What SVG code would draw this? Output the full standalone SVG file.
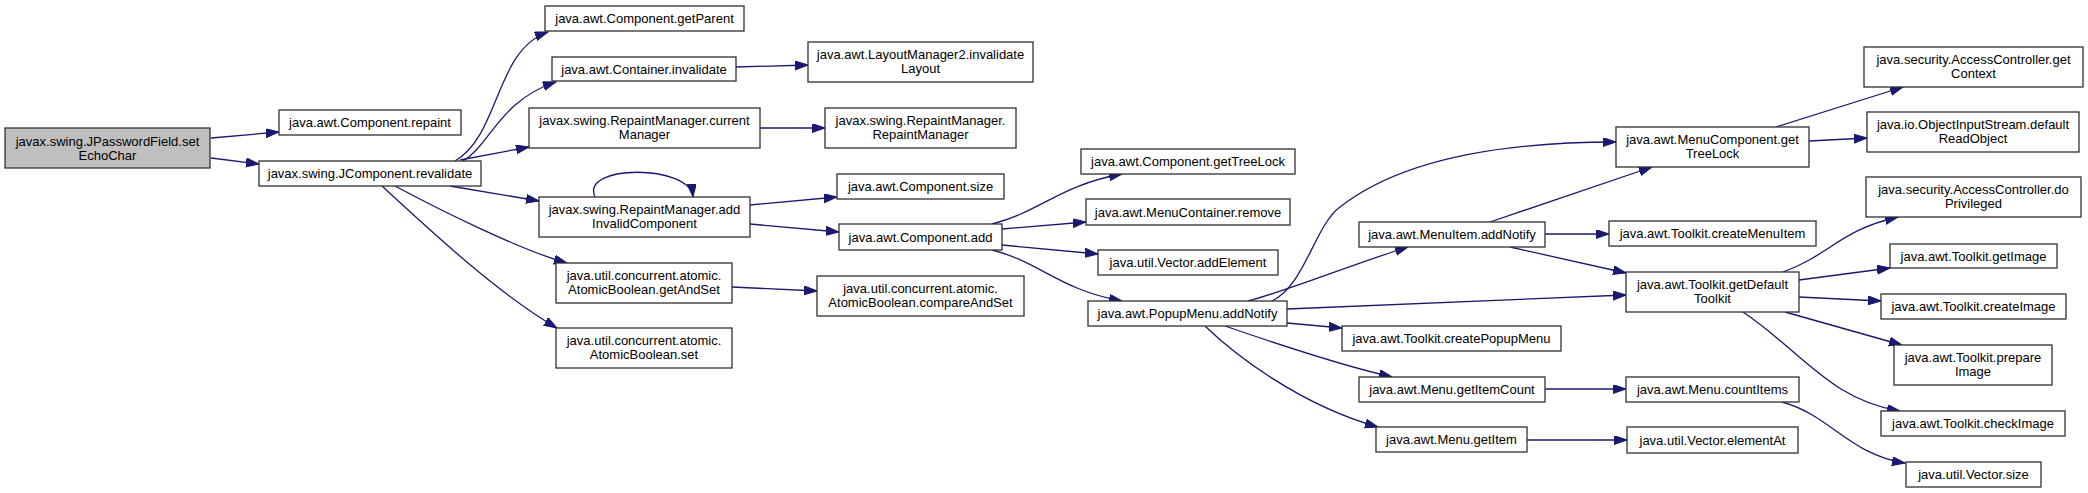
<svg xmlns="http://www.w3.org/2000/svg" width="2088" height="493" viewBox="0 0 2088 493">
<style>
.n rect{fill:#ffffff;stroke:#303030;stroke-width:1.3}
.n.root rect{fill:#bfbfbf}
.n text{font-family:"Liberation Sans",Arial,sans-serif;font-size:13px;fill:#000;text-anchor:middle}
#edges path{fill:none;stroke:#191970;stroke-width:1.3;marker-end:url(#ah)}
</style>
<defs>
<marker id="ah" markerUnits="userSpaceOnUse" markerWidth="14" markerHeight="10" refX="13" refY="4.5" orient="auto" viewBox="0 0 14 10">
<path d="M0,0 L13,4.5 L0,9 z" fill="#191970" stroke="#191970" stroke-width="1"/>
</marker>
</defs>
<rect width="2088" height="493" fill="#ffffff"/>
<g id="edges">
<path d="M211,138 L279,132"/>
<path d="M211,158 L259,164"/>
<path d="M455,161 C500,135 495,50 548,32"/>
<path d="M463,161 C490,145 500,100 556,82"/>
<path d="M460,160 L529,147"/>
<path d="M450,186 L539,201"/>
<path d="M395,186 C440,210 520,250 567,263"/>
<path d="M382,186 C435,235 500,295 557,328"/>
<path d="M736,67 L808,65"/>
<path d="M760,128 L825,128"/>
<path d="M595,197 C580,164 690,164 693,197"/>
<path d="M750,205 L837,197"/>
<path d="M750,224 L839,232"/>
<path d="M992,224 C1040,212 1060,185 1122,174"/>
<path d="M1002,229 L1086,222"/>
<path d="M1002,245 L1098,254"/>
<path d="M992,250 C1040,262 1060,290 1122,301"/>
<path d="M732,287 L817,291"/>
<path d="M1272,301 C1305,285 1315,225 1340,207 C1400,160 1500,142 1616,142"/>
<path d="M1248,301 C1290,290 1350,265 1408,247"/>
<path d="M1490,222 L1652,167"/>
<path d="M1545,234 L1609,234"/>
<path d="M1510,247 L1626,273"/>
<path d="M1287,309 L1626,295"/>
<path d="M1287,323 L1342,328"/>
<path d="M1225,326 C1280,345 1340,365 1392,377"/>
<path d="M1205,326 C1235,355 1300,405 1378,427"/>
<path d="M1545,389 L1626,389"/>
<path d="M1527,440 L1627,440"/>
<path d="M1776,127 L1903,87"/>
<path d="M1809,141 L1867,138"/>
<path d="M1783,272 C1830,255 1840,230 1898,217"/>
<path d="M1799,280 L1890,268"/>
<path d="M1799,297 L1881,301"/>
<path d="M1785,312 L1902,345"/>
<path d="M1743,312 C1800,350 1830,400 1900,411"/>
<path d="M1782,402 C1830,415 1850,455 1905,463"/>
</g>
<g id="n0" class="n root"><rect x="5" y="128" width="205" height="40"/><text x="107.5" y="145.5">javax.swing.JPasswordField.set</text><text x="107.5" y="159.5">EchoChar</text></g>
<g id="n1" class="n"><rect x="279" y="110" width="182" height="25"/><text x="370" y="127">java.awt.Component.repaint</text></g>
<g id="n2" class="n"><rect x="259" y="161" width="222" height="25"/><text x="370" y="178">javax.swing.JComponent.revalidate</text></g>
<g id="n3" class="n"><rect x="545" y="6" width="199" height="25"/><text x="644.5" y="23">java.awt.Component.getParent</text></g>
<g id="n4" class="n"><rect x="552" y="57" width="184" height="24"/><text x="644" y="73.5">java.awt.Container.invalidate</text></g>
<g id="n5" class="n"><rect x="808" y="42" width="225" height="40"/><text x="920.5" y="59">java.awt.LayoutManager2.invalidate</text><text x="920.5" y="73">Layout</text></g>
<g id="n6" class="n"><rect x="529" y="108" width="231" height="40"/><text x="644.5" y="125">javax.swing.RepaintManager.current</text><text x="644.5" y="139">Manager</text></g>
<g id="n7" class="n"><rect x="825" y="108" width="191" height="40"/><text x="920.5" y="125">javax.swing.RepaintManager.</text><text x="920.5" y="139">RepaintManager</text></g>
<g id="n8" class="n"><rect x="539" y="197" width="211" height="40"/><text x="644.5" y="214">javax.swing.RepaintManager.add</text><text x="644.5" y="228">InvalidComponent</text></g>
<g id="n9" class="n"><rect x="837" y="174" width="167" height="25"/><text x="920.5" y="191">java.awt.Component.size</text></g>
<g id="n10" class="n"><rect x="839" y="224" width="163" height="26"/><text x="920.5" y="241.5">java.awt.Component.add</text></g>
<g id="n11" class="n"><rect x="556" y="263" width="176" height="40"/><text x="644" y="280">java.util.concurrent.atomic.</text><text x="644" y="294">AtomicBoolean.getAndSet</text></g>
<g id="n12" class="n"><rect x="817" y="276" width="207" height="40"/><text x="920.5" y="293">java.util.concurrent.atomic.</text><text x="920.5" y="307">AtomicBoolean.compareAndSet</text></g>
<g id="n13" class="n"><rect x="556" y="328" width="176" height="40"/><text x="644" y="345">java.util.concurrent.atomic.</text><text x="644" y="359">AtomicBoolean.set</text></g>
<g id="n14" class="n"><rect x="1081" y="149" width="214" height="25"/><text x="1188" y="166">java.awt.Component.getTreeLock</text></g>
<g id="n15" class="n"><rect x="1086" y="199" width="204" height="26"/><text x="1188" y="216.5">java.awt.MenuContainer.remove</text></g>
<g id="n16" class="n"><rect x="1098" y="250" width="180" height="25"/><text x="1188" y="267">java.util.Vector.addElement</text></g>
<g id="n17" class="n"><rect x="1088" y="301" width="199" height="25"/><text x="1187.5" y="318">java.awt.PopupMenu.addNotify</text></g>
<g id="n18" class="n"><rect x="1616" y="127" width="193" height="40"/><text x="1712.5" y="144">java.awt.MenuComponent.get</text><text x="1712.5" y="158">TreeLock</text></g>
<g id="n19" class="n"><rect x="1359" y="222" width="186" height="25"/><text x="1452" y="239">java.awt.MenuItem.addNotify</text></g>
<g id="n20" class="n"><rect x="1609" y="221" width="207" height="25"/><text x="1712.5" y="238">java.awt.Toolkit.createMenuItem</text></g>
<g id="n21" class="n"><rect x="1626" y="272" width="173" height="40"/><text x="1712.5" y="289">java.awt.Toolkit.getDefault</text><text x="1712.5" y="303">Toolkit</text></g>
<g id="n22" class="n"><rect x="1342" y="326" width="219" height="25"/><text x="1451.5" y="343">java.awt.Toolkit.createPopupMenu</text></g>
<g id="n23" class="n"><rect x="1359" y="377" width="186" height="25"/><text x="1452" y="394">java.awt.Menu.getItemCount</text></g>
<g id="n24" class="n"><rect x="1376" y="427" width="151" height="25"/><text x="1451.5" y="444">java.awt.Menu.getItem</text></g>
<g id="n25" class="n"><rect x="1626" y="377" width="173" height="25"/><text x="1712.5" y="394">java.awt.Menu.countItems</text></g>
<g id="n26" class="n"><rect x="1627" y="427" width="171" height="26"/><text x="1712.5" y="444.5">java.util.Vector.elementAt</text></g>
<g id="n27" class="n"><rect x="1864" y="47" width="219" height="40"/><text x="1973.5" y="64">java.security.AccessController.get</text><text x="1973.5" y="78">Context</text></g>
<g id="n28" class="n"><rect x="1867" y="112" width="212" height="40"/><text x="1973" y="129">java.io.ObjectInputStream.default</text><text x="1973" y="143">ReadObject</text></g>
<g id="n29" class="n"><rect x="1866" y="177" width="215" height="40"/><text x="1973.5" y="194">java.security.AccessController.do</text><text x="1973.5" y="208">Privileged</text></g>
<g id="n30" class="n"><rect x="1890" y="244" width="167" height="24"/><text x="1973.5" y="260.5">java.awt.Toolkit.getImage</text></g>
<g id="n31" class="n"><rect x="1881" y="294" width="185" height="25"/><text x="1973.5" y="311">java.awt.Toolkit.createImage</text></g>
<g id="n32" class="n"><rect x="1894" y="345" width="158" height="40"/><text x="1973" y="362">java.awt.Toolkit.prepare</text><text x="1973" y="376">Image</text></g>
<g id="n33" class="n"><rect x="1881" y="411" width="184" height="25"/><text x="1973" y="428">java.awt.Toolkit.checkImage</text></g>
<g id="n34" class="n"><rect x="1906" y="462" width="135" height="25"/><text x="1973.5" y="479">java.util.Vector.size</text></g>
</svg>
